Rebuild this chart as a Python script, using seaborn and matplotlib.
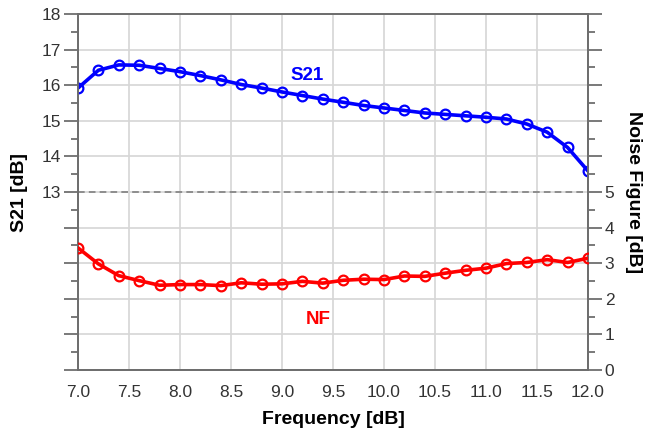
import numpy as np
import matplotlib
matplotlib.use("Agg")
import matplotlib.pyplot as plt
from matplotlib.ticker import MultipleLocator
import seaborn as sns

# data
freq = [7.0, 7.2, 7.4, 7.6, 7.8, 8.0, 8.2, 8.4, 8.6, 8.8, 9.0, 9.2, 9.4,
        9.6, 9.8, 10.0, 10.2, 10.4, 10.6, 10.8, 11.0, 11.2, 11.4, 11.6, 11.8, 12.0]
s21 = [15.92, 16.42, 16.57, 16.56, 16.47, 16.38, 16.27, 16.15, 16.02, 15.92,
       15.81, 15.71, 15.61, 15.52, 15.43, 15.36, 15.29, 15.22, 15.18, 15.14,
       15.10, 15.05, 14.91, 14.68, 14.25, 13.59]
nf = [3.43, 2.98, 2.65, 2.51, 2.38, 2.40, 2.40, 2.37, 2.45, 2.41, 2.42, 2.49,
      2.44, 2.52, 2.55, 2.54, 2.64, 2.63, 2.72, 2.80, 2.86, 2.99, 3.02, 3.10,
      3.02, 3.14]
s21_labels = [13, 14, 15, 16, 17, 18]
nf_labels = [0, 1, 2, 3, 4, 5]

sns.set_style("white")
plt.rcParams['font.family'] = ['Liberation Sans', 'DejaVu Sans']

spine_col = "#6e6e6e"
grid_col = "#d6d6d6"
tick_col = "#333333"

fig = plt.figure(figsize=(6.46, 4.41), dpi=100)
ax = fig.add_axes([78 / 646, 71 / 441, 510 / 646, 356 / 441])
ax2 = ax.twinx()

ax.set_xlim(7.0, 12.0)
ax.set_ylim(8, 18)
ax2.set_ylim(0, 10)

# grid
ax.xaxis.set_major_locator(MultipleLocator(0.5))
ax.yaxis.set_major_locator(MultipleLocator(1))
ax.yaxis.set_minor_locator(MultipleLocator(0.5))
ax2.yaxis.set_major_locator(MultipleLocator(1))
ax2.yaxis.set_minor_locator(MultipleLocator(0.5))
ax.grid(True, which="major", color=grid_col, linewidth=1.2)
ax.set_axisbelow(True)

ax.axhline(13, color="#808080", linestyle="--", linewidth=1.2, dashes=(4, 2.5), zorder=1)

sns.lineplot(x=freq, y=s21, ax=ax, color="#0000ff", linewidth=2.6, marker="o",
             markersize=7, markerfacecolor="none", markeredgecolor="#0000ff",
             markeredgewidth=1.6, zorder=3)
sns.lineplot(x=freq, y=nf, ax=ax2, color="#ff0000", linewidth=2.6, marker="o",
             markersize=7, markerfacecolor="none", markeredgecolor="#ff0000",
             markeredgewidth=1.6, zorder=3)

# tick labels only on the upper half (left) and lower half (right)
ax.set_xticks(np.arange(7.0, 12.01, 0.5))
ax.set_xticklabels([f"{v:.1f}" for v in np.arange(7.0, 12.01, 0.5)])
ax.set_yticks(range(8, 19))
ax.set_yticklabels([str(v) if v in s21_labels else "" for v in range(8, 19)])
ax2.set_yticks(range(0, 11))
ax2.set_yticklabels([str(v) if v in nf_labels else "" for v in range(0, 11)])

for a in (ax, ax2):
    for s in a.spines.values():
        s.set_color(spine_col)
        s.set_linewidth(1.3)
    a.tick_params(which="major", length=10, width=1.3, color=spine_col,
                  labelsize=12.5, labelcolor=tick_col, pad=2)
    a.tick_params(which="minor", length=5, width=1.3, color=spine_col)
ax.tick_params(axis="x", length=5, pad=6)
ax.tick_params(axis="y", which="both", left=True, right=False)
ax2.tick_params(axis="y", which="both", right=True, left=False)

ax.set_xlabel("Frequency [dB]", fontsize=14, fontweight="bold", color="black", labelpad=8)
ax.set_ylabel("S21 [dB]", fontsize=14, fontweight="bold", color="black", labelpad=10)
ax2.set_ylabel("Noise Figure [dB]", fontsize=14, fontweight="bold", color="black",
               rotation=270, labelpad=20)

ax.text(9.25, 16.26, "S21", color="#0000ff", fontsize=13.5, fontweight="bold",
        ha="center", va="center")
ax2.text(9.35, 1.41, "NF", color="#ff0000", fontsize=13.5, fontweight="bold",
         ha="center", va="center")

fig.savefig("out.png", dpi=100)
